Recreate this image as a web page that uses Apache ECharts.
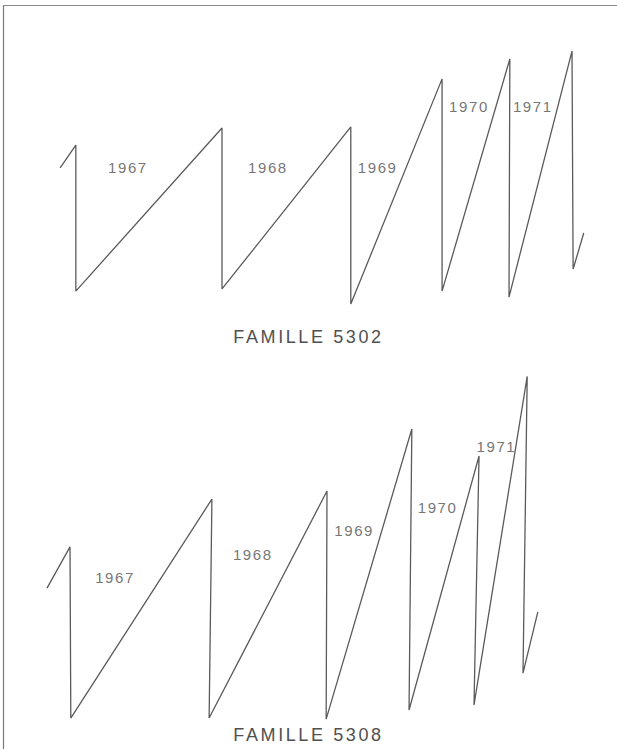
<!DOCTYPE html>
<html>
<head>
<meta charset="utf-8">
<script src="https://cdn.jsdelivr.net/npm/echarts@6/dist/echarts.min.js"></script>
<style>
html,body{margin:0;padding:0;background:#fff;}
#chart{width:617px;height:749px;}
#chart svg text{letter-spacing:1.6px;}
#chart svg text[style*="18px"]{letter-spacing:2.6px;}
</style>
</head>
<body>
<div id="chart"></div>
<script>
// ---- FAMILLE 5302 (top) : sawtooth vertices (x, y in arbitrary units 0-100)
const topX = [3.6, 6.4, 6.4, 32.5, 32.5, 55.5, 55.5, 71.8, 71.8, 83.9, 83.75, 95.0, 95.2, 97.1];
const topY = [52.6, 61.1, 7.0, 67.4, 7.8, 67.8, 2.2, 85.6, 7.0, 93.0, 4.8, 95.9, 15.2, 28.5];
const topYears = ['1967', '1968', '1969', '1970', '1971'];
const topLabelX = [15.7, 40.7, 60.3, 76.6, 88.0];
const topLabelY = [52.6, 52.6, 52.6, 75.2, 75.2];

// ---- FAMILLE 5308 (bottom)
const botX = [1.25, 5.36, 5.5, 30.7, 30.2, 51.25, 51.1, 66.4, 65.9, 78.4, 77.5, 87.0, 86.25, 88.9];
const botY = [37.5, 48.8, 1.9, 61.9, 1.9, 64.1, 1.6, 81.1, 4.1, 73.7, 5.5, 95.5, 14.2, 31.0];
const botYears = ['1967', '1968', '1969', '1970', '1971'];
const botLabelX = [13.4, 38.0, 56.1, 71.0, 81.5];
const botLabelY = [40.3, 46.8, 53.2, 59.5, 76.4];

const titles = ['FAMILLE 5302', 'FAMILLE 5308'];

const pairs = (xs, ys) => xs.map((x, i) => [x, ys[i]]);
const labelData = (xs, ys, names) => xs.map((x, i) => ({ value: [x, ys[i]], name: names[i] }));

const INK = '#5a5a5a';
const TEXT = '#505050';
const FONT = '"Liberation Sans", Arial, sans-serif';

const chart = echarts.init(document.getElementById('chart'), null, { renderer: 'svg' });
const axisHidden = { type: 'value', min: 0, max: 100, show: false };

chart.setOption({
  animation: false,
  backgroundColor: '#fff',
  title: [
    { text: titles[0], left: 'center', top: 323, textStyle: { fontFamily: FONT, fontSize: 18, fontWeight: 'normal', color: TEXT } },
    { text: titles[1], left: 'center', top: 721, textStyle: { fontFamily: FONT, fontSize: 18, fontWeight: 'normal', color: TEXT } }
  ],
  grid: [
    { left: 40, width: 560, top: 40, height: 270 },
    { left: 40, width: 560, top: 360, height: 365 }
  ],
  xAxis: [Object.assign({ gridIndex: 0 }, axisHidden), Object.assign({ gridIndex: 1 }, axisHidden)],
  yAxis: [Object.assign({ gridIndex: 0 }, axisHidden), Object.assign({ gridIndex: 1 }, axisHidden)],
  graphic: [
    { type: 'line', shape: { x1: 3.5, y1: 5, x2: 3.5, y2: 749 }, style: { stroke: '#777', lineWidth: 1.2 } },
    { type: 'line', shape: { x1: 3, y1: 5.5, x2: 617, y2: 5.5 }, style: { stroke: '#888', lineWidth: 1 } }
  ],
  series: [
    { type: 'line', xAxisIndex: 0, yAxisIndex: 0, data: pairs(topX, topY), showSymbol: false,
      lineStyle: { color: INK, width: 1.3 } },
    { type: 'line', xAxisIndex: 1, yAxisIndex: 1, data: pairs(botX, botY), showSymbol: false,
      lineStyle: { color: INK, width: 1.3 } },
    { type: 'scatter', xAxisIndex: 0, yAxisIndex: 0, symbolSize: 0, data: labelData(topLabelX, topLabelY, topYears),
      label: { show: true, position: 'inside', formatter: '{b}', fontFamily: FONT, fontSize: 15, color: TEXT } },
    { type: 'scatter', xAxisIndex: 1, yAxisIndex: 1, symbolSize: 0, data: labelData(botLabelX, botLabelY, botYears),
      label: { show: true, position: 'inside', formatter: '{b}', fontFamily: FONT, fontSize: 15, color: TEXT } }
  ]
});
</script>
</body>
</html>
